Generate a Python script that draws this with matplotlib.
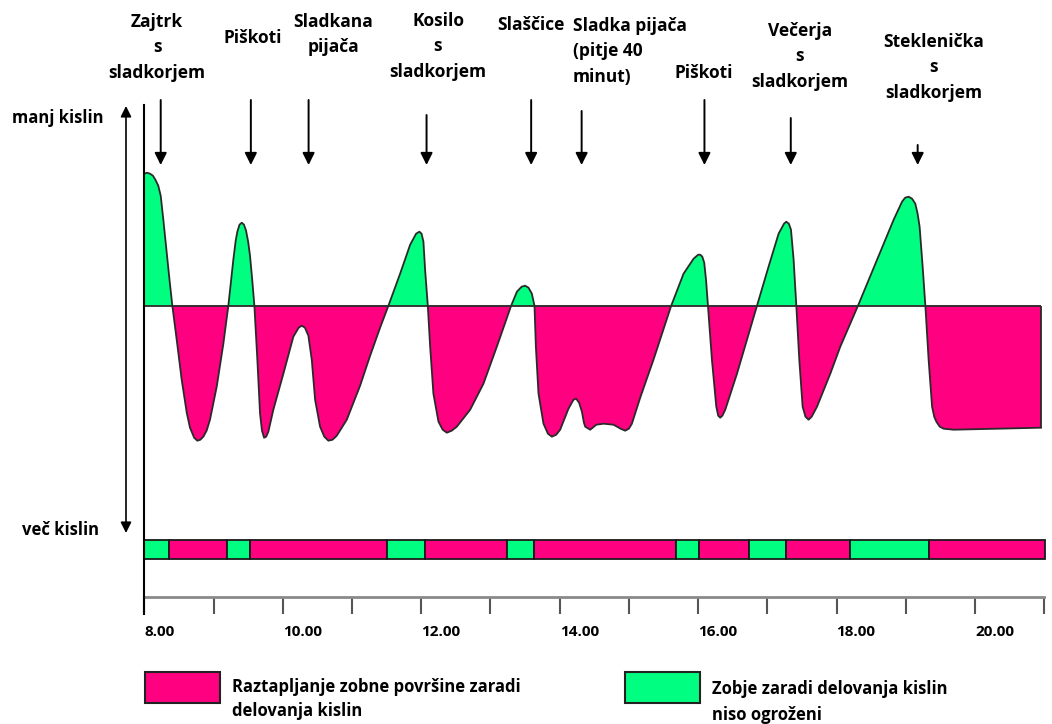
import matplotlib
matplotlib.use("Agg")
import matplotlib.pyplot as plt
import matplotlib.patches as mpatches
import numpy as np

plt.rcParams.update({
    "font.family": ["Open Sans", "DejaVu Sans"],
    "font.weight": "bold",
    "font.size": 12,
})

GREEN = "#00FF80"
MAGENTA = "#FF0080"
EDGE = "#2a2a2a"
CRITICAL = 5.5

# plaque level through the day (hour of day, pH)
hours = [8.000, 8.040, 8.082, 8.125, 8.160, 8.202, 8.237, 8.275, 8.324, 8.364,
         8.405, 8.468, 8.540, 8.613, 8.660, 8.720, 8.766, 8.810, 8.853, 8.900,
         8.949, 9.046, 9.142, 9.214, 9.286, 9.320, 9.344, 9.375, 9.408, 9.440,
         9.470, 9.500, 9.527, 9.560, 9.590, 9.633, 9.672, 9.700, 9.730, 9.760,
         9.792, 9.864, 10.009, 10.153, 10.230, 10.275, 10.320, 10.370, 10.400, 10.419,
         10.467, 10.539, 10.600, 10.659, 10.720, 10.780, 10.925, 11.117, 11.262, 11.406,
         11.526, 11.695, 11.840, 11.926, 11.974, 12.005, 12.032, 12.056, 12.095, 12.129,
         12.176, 12.249, 12.310, 12.370, 12.440, 12.514, 12.707, 12.899, 13.092, 13.299,
         13.382, 13.450, 13.501, 13.550, 13.598, 13.636, 13.656, 13.694, 13.766, 13.830,
         13.887, 13.950, 14.007, 14.127, 14.200, 14.238, 14.280, 14.321, 14.350, 14.369,
         14.441, 14.530, 14.633, 14.777, 14.880, 14.946, 15.000, 15.043, 15.163, 15.355,
         15.611, 15.789, 15.934, 16.000, 16.030, 16.060, 16.088, 16.115, 16.142, 16.199,
         16.262, 16.290, 16.319, 16.350, 16.392, 16.561, 16.705, 16.850, 17.017, 17.162,
         17.240, 17.273, 17.310, 17.341, 17.379, 17.418, 17.461, 17.509, 17.550, 17.595,
         17.640, 17.717, 17.909, 18.053, 18.309, 18.584, 18.824, 18.945, 18.990, 19.040,
         19.090, 19.137, 19.170, 19.199, 19.243, 19.282, 19.329, 19.379, 19.410, 19.441,
         19.490, 19.546, 19.691, 20.954]
level = [6.82, 6.83, 6.82, 6.80, 6.76, 6.70, 6.60, 6.36, 6.03, 5.76,
         5.50, 5.16, 4.76, 4.43, 4.28, 4.18, 4.15, 4.16, 4.19, 4.25,
         4.36, 4.69, 5.12, 5.50, 5.96, 6.15, 6.24, 6.31, 6.33, 6.31,
         6.25, 6.14, 6.00, 5.75, 5.50, 4.96, 4.42, 4.25, 4.18, 4.19,
         4.24, 4.46, 4.82, 5.19, 5.28, 5.30, 5.28, 5.20, 5.05, 4.96,
         4.56, 4.29, 4.19, 4.15, 4.16, 4.20, 4.36, 4.70, 5.00, 5.28,
         5.50, 5.82, 6.11, 6.22, 6.24, 6.22, 6.14, 5.86, 5.50, 5.09,
         4.62, 4.34, 4.26, 4.23, 4.25, 4.29, 4.46, 4.72, 5.09, 5.50,
         5.64, 5.69, 5.70, 5.68, 5.62, 5.50, 5.09, 4.62, 4.32, 4.22,
         4.19, 4.21, 4.26, 4.47, 4.56, 4.57, 4.53, 4.44, 4.33, 4.29,
         4.26, 4.31, 4.32, 4.31, 4.27, 4.25, 4.27, 4.32, 4.58, 4.96,
         5.50, 5.82, 5.97, 6.01, 6.01, 5.99, 5.93, 5.75, 5.50, 4.96,
         4.49, 4.40, 4.38, 4.40, 4.46, 4.82, 5.16, 5.50, 5.89, 6.22,
         6.32, 6.34, 6.32, 6.26, 5.96, 5.50, 4.96, 4.49, 4.39, 4.36,
         4.39, 4.49, 4.82, 5.09, 5.50, 5.96, 6.36, 6.54, 6.58, 6.59,
         6.57, 6.52, 6.42, 6.29, 5.89, 5.50, 4.96, 4.49, 4.39, 4.34,
         4.29, 4.27, 4.26, 4.28]

# colour strip under the curve (edges in hours)
strip_edges = [8.0, 8.357, 9.191, 9.523, 11.512, 12.056, 13.246, 13.631,
               15.679, 16.016, 16.728, 17.269, 18.198, 19.329, 21.013]
strip_safe = [True, False, True, False, True, False, True, False,
              True, False, True, False, True, False]

# meals / snacks
meal_labels = ["Zajtrk\ns\nsladkorjem", "Piškoti", "Sladkana\npijača",
               "Kosilo\ns\nsladkorjem", "Slaščice", "Sladka pijača\n(pitje 40\nminut)",
               "Piškoti", "Večerja\ns\nsladkorjem", "Steklenička\ns\nsladkorjem"]
meal_hours = [8.237, 9.539, 10.373, 12.077, 13.588, 14.317, 16.091, 17.338, 19.171]

tick_hours = list(range(8, 22))
tick_labels = [f"{h}.00" if h % 2 == 0 else "" for h in tick_hours]

W, H = 1052, 724


def fx(x):
    return x / W


def fy(y):
    return 1 - y / H


fig = plt.figure(figsize=(W / 100, H / 100), dpi=100)
ax = fig.add_axes([fx(144.3), fy(597), fx(1044.3) - fx(144.3), fy(105) - fy(597)])
ax.set_xlim(8, 21.0)
ax.set_ylim(2.587, 7.507)

x = np.array(hours)
y = np.array(level)
ax.fill_between(x, y, CRITICAL, where=y >= CRITICAL, interpolate=True,
                color=GREEN, lw=0, zorder=2)
ax.fill_between(x, y, CRITICAL, where=y <= CRITICAL, interpolate=True,
                color=MAGENTA, lw=0, zorder=2)
ax.plot(x, y, color=EDGE, lw=1.3, zorder=3, solid_joinstyle="round")
ax.hlines(CRITICAL, 8, x[-1], color=EDGE, lw=1.3, zorder=3)
ax.vlines(x[-1], y[-1], CRITICAL, color=EDGE, lw=1.3, zorder=3)

# strip
for a, b, safe in zip(strip_edges[:-1], strip_edges[1:], strip_safe):
    ax.axvspan(a, b, ymin=0.0766, ymax=0.1159, facecolor=GREEN if safe else MAGENTA,
               edgecolor="#1a1a1a", lw=1.3, zorder=2, clip_on=False)

# axes
for s in ["top", "right", "left"]:
    ax.spines[s].set_visible(False)
ax.spines["bottom"].set_color("#8a8a8a")
ax.spines["bottom"].set_linewidth(2)
ax.axvline(8, ymin=-17 / 492, ymax=1, color="black", lw=1.5, clip_on=False, zorder=4)
ax.set_yticks([])
ax.set_xticks(tick_hours)
ax.set_xticklabels(tick_labels, ha="left", fontsize=11, fontweight="bold")
ax.tick_params(axis="x", direction="out", length=12.2, width=1.5, color="#555555", pad=8)

# meal arrows and labels (label: x px, first line y px, alignment)
arrow_tops = [7.557, 7.557, 7.557, 7.407, 7.557, 7.447, 7.557, 7.377, 7.107]
label_pos = [(157, 22, "center"), (253, 38, "center"), (333, 22, "center"),
             (438, 21, "center"), (531, 25, "center"), (573, 26, "left"),
             (704, 73, "center"), (800, 31, "center"), (934, 42, "center")]
LINE = 25.3
for lab, h, top, (px, py, ha) in zip(meal_labels, meal_hours, arrow_tops, label_pos):
    ax.annotate("", xy=(h, 6.907), xytext=(h, top),
                arrowprops=dict(arrowstyle="-|>", color="black", lw=1.4,
                                mutation_scale=18, shrinkA=0, shrinkB=0),
                annotation_clip=False)
    for i, line in enumerate(lab.split("\n")):
        fig.text(fx(px), fy(py + i * LINE), line, ha=ha, va="center",
                 fontsize=12.5, fontweight="bold")

# left double arrow
ax.annotate("", xy=(fx(126), fy(106)), xytext=(fx(126), fy(533)),
            xycoords="figure fraction", textcoords="figure fraction",
            arrowprops=dict(arrowstyle="<|-|>", color="black", lw=1.2,
                            mutation_scale=16, shrinkA=0, shrinkB=0))
fig.text(fx(58), fy(118), "manj kislin", ha="center", va="center", fontsize=12)
fig.text(fx(61), fy(530), "več kislin", ha="center", va="center", fontsize=12)

# legend
for x0, col in [(145, MAGENTA), (625, GREEN)]:
    fig.patches.append(mpatches.Rectangle((fx(x0), fy(703)), fx(75), fy(672) - fy(703),
                                          transform=fig.transFigure, facecolor=col,
                                          edgecolor="#222222", lw=1.5))
fig.text(fx(232), fy(699), "Raztapljanje zobne površine zaradi\ndelovanja kislin",
         ha="left", va="center", fontsize=12, linespacing=1.5)
fig.text(fx(712), fy(702), "Zobje zaradi delovanja kislin\nniso ogroženi",
         ha="left", va="center", fontsize=12, linespacing=1.5)

fig.savefig("out.png", dpi=100)
